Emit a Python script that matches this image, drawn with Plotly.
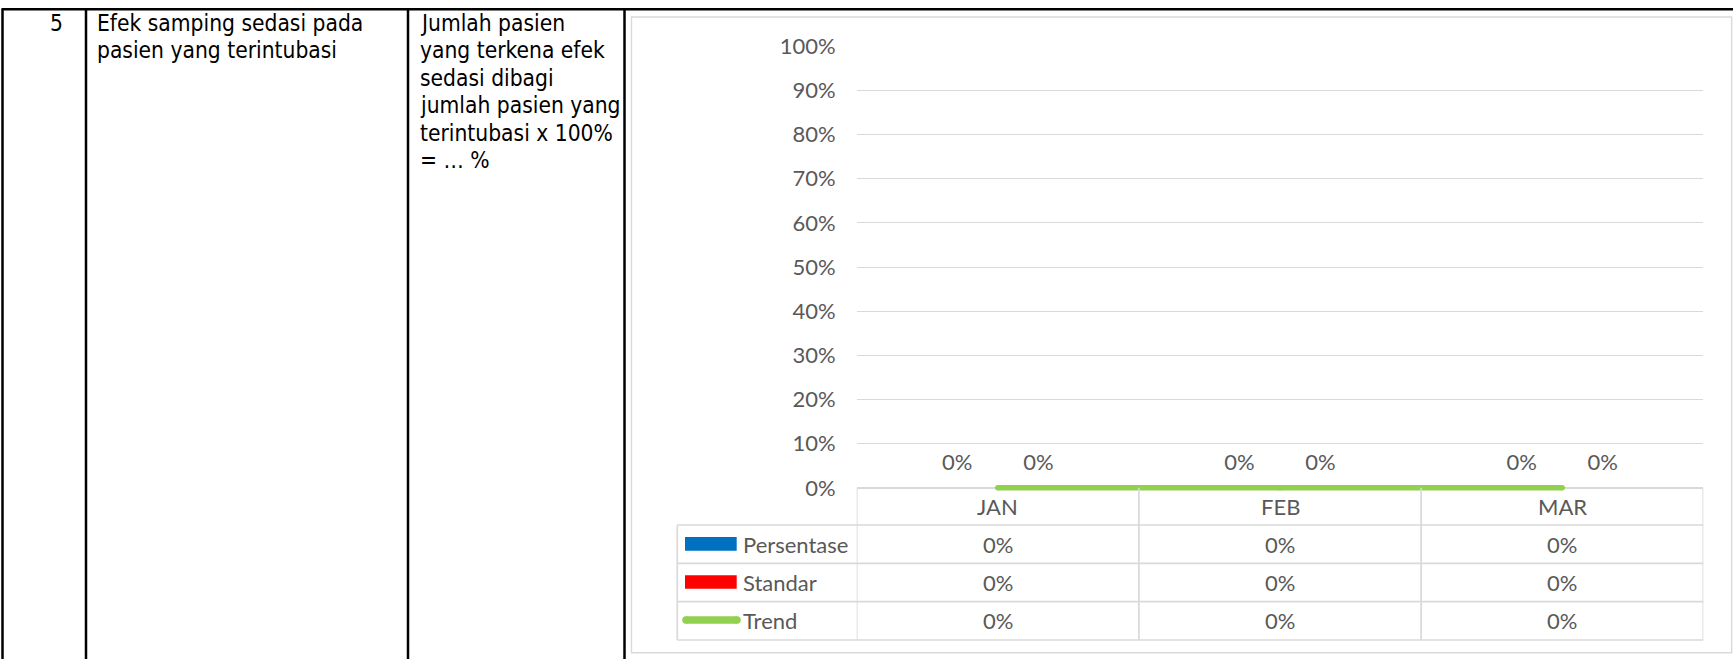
import plotly.graph_objects as go

W, H = 1733, 659

# ---------------- data ----------------
months = ["JAN", "FEB", "MAR"]
persentase = [0, 0, 0]
standar = [0, 0, 0]
trend = [0, 0, 0]
series_names = ["Persentase", "Standar", "Trend"]
y_tickvals = [0, 0.1, 0.2, 0.3, 0.4, 0.5, 0.6, 0.7, 0.8, 0.9, 1.0]
y_ticktext = ["0%", "10%", "20%", "30%", "40%", "50%", "60%", "70%", "80%", "90%", "100%"]

row_no = "5"
indikator_lines = ["Efek samping sedasi pada", "pasien yang terintubasi"]
definisi_lines = ["Jumlah pasien", "yang terkena efek", "sedasi dibagi",
                  "jumlah pasien yang", "terintubasi x 100%", "= \u2026 %"]

# ---------------- styles ----------------
BLUE, RED, GREEN = "#0070C0", "#FF0000", "#92D050"
GRAY, GRID = "#595959", "#D9D9D9"
CHART_FONT = "Lato"
DOC_FONT = "DejaVu Sans Condensed, Liberation Sans Narrow, sans-serif"
CFS = 22   # chart font size
DFS = 22.6  # document font size


def px(x):
    return x / W


def py(y):
    return 1 - y / H


def pct(v):
    return f"{v:.0%}"


# plot area: 0% sits at 487.8 px, 100% at 46.3 px; a small pad below 0 keeps the
# thick trend line from being clipped
Y0_PX, Y100_PX = 487.8, 46.3
Y_PAD = 0.01
X_DOM = [px(856.7), px(1703.3)]
Y_DOM = [py(Y0_PX + Y_PAD * (Y0_PX - Y100_PX)), py(Y100_PX)]

fig = go.Figure()

# bars (zero-height) + their data labels
for name, vals, col in [("Persentase", persentase, BLUE), ("Standar", standar, RED)]:
    fig.add_trace(go.Bar(x=months, y=vals, name=name, offsetgroup=name,
                         marker=dict(color=col, line=dict(width=0)),
                         hoverinfo="skip", showlegend=False))
    fig.add_trace(go.Scatter(x=months, y=vals, mode="markers+text",
                             alignmentgroup="labels", offsetgroup=name,
                             text=[pct(v) for v in vals], textposition="top center",
                             textfont=dict(family=CHART_FONT, size=CFS, color=GRAY),
                             marker=dict(size=18, opacity=0), cliponaxis=False,
                             hoverinfo="skip", showlegend=False))

# trend line (own alignment group so it stays on the category centre)
fig.add_trace(go.Scatter(x=months, y=trend, mode="lines+markers", name="Trend",
                         alignmentgroup="trend", offsetgroup="trend",
                         line=dict(color=GREEN, width=5.5),
                         marker=dict(color=GREEN, size=5.5),
                         cliponaxis=False, hoverinfo="skip", showlegend=False))

shapes = []
BLK = dict(color="black", width=2.5)
# outer document table lines
shapes.append(dict(type="line", xref="paper", yref="paper", x0=px(1.5), x1=1, y0=py(9.2), y1=py(9.2), line=BLK))
for xv in [2.5, 86, 408, 624.5]:
    shapes.append(dict(type="line", xref="paper", yref="paper", x0=px(xv), x1=px(xv),
                       y0=py(9.2), y1=0, line=BLK))
# chart frame
shapes.append(dict(type="rect", xref="paper", yref="paper", x0=px(631.5), x1=px(1731.7),
                   y0=py(652.7), y1=py(17), line=dict(color=GRID, width=1.4)))
# data table lines
row_lines = [525, 563.3, 601.7, 640]
TL = dict(color=GRID, width=1.7)
for yv in row_lines:
    shapes.append(dict(type="line", xref="paper", yref="paper", x0=px(677.3), x1=X_DOM[1],
                       y0=py(yv), y1=py(yv), line=TL))
shapes.append(dict(type="line", xref="paper", yref="paper", x0=px(677.3), x1=px(677.3),
                   y0=py(525), y1=py(640), line=TL))
for k in range(len(months) + 1):
    shapes.append(dict(type="line", xref="x", yref="paper", x0=k - 0.5, x1=k - 0.5,
                       y0=py(Y0_PX), y1=py(640), line=TL))

# legend keys inside the table
shapes.append(dict(type="rect", xref="paper", yref="paper", x0=px(685), x1=px(736.7),
                   y0=py(550.7), y1=py(537), fillcolor=BLUE, line=dict(width=0)))
shapes.append(dict(type="rect", xref="paper", yref="paper", x0=px(685), x1=px(736.7),
                   y0=py(588.7), y1=py(575.3), fillcolor=RED, line=dict(width=0)))
shapes.append(dict(type="line", xref="paper", yref="paper", x0=px(686), x1=px(737),
                   y0=py(620), y1=py(620), line=dict(color=GREEN, width=7.6)))
for cx in [686, 737]:
    shapes.append(dict(type="circle", xref="paper", yref="paper", x0=px(cx - 3.8), x1=px(cx + 3.8),
                       y0=py(623.8), y1=py(616.2), fillcolor=GREEN, line=dict(width=0)))

annotations = []


def ann(text, x, y, xanchor="left", size=CFS, family=CHART_FONT, color=GRAY, xref="paper"):
    annotations.append(dict(text=text, x=x, y=y, xref=xref, yref="paper", xanchor=xanchor,
                            yanchor="middle", showarrow=False, borderpad=0, borderwidth=0,
                            font=dict(family=family, size=size, color=color)))


# document text (baseline based)
def doc_line(text, x, baseline, xanchor="left"):
    ann(text, px(x), py(baseline - 0.35 * DFS), xanchor=xanchor, size=DFS, family=DOC_FONT, color="black")


doc_line(row_no, 56.7, 30.8, xanchor="center")
for i, t in enumerate(indikator_lines):
    doc_line(t, 96.7, 30.8 + 27.5 * i)
for i, t in enumerate(definisi_lines):
    doc_line(t, 420, 30.8 + 27.5 * i)

# table: header, legend labels and values
for m in months:
    ann(m, m, py(506.7), xanchor="center", xref="x")
row_centers = [544.2, 582.5, 620.9]
for name, vals, yc in zip(series_names, [persentase, standar, trend], row_centers):
    ann(name, px(742.7), py(yc))
    for m, v in zip(months, vals):
        ann(pct(v), m, py(yc), xanchor="center", xref="x")

axis_font = dict(family=CHART_FONT, size=CFS, color=GRAY)
fig.update_layout(
    width=W, height=H, autosize=False,
    margin=dict(l=0, r=0, t=0, b=0, pad=0, autoexpand=False),
    paper_bgcolor="white", plot_bgcolor="white",
    showlegend=False,
    barmode="group", bargap=0.425, bargroupgap=0,
    scattermode="group", scattergap=0.425,
    xaxis=dict(domain=X_DOM, type="category", categoryorder="array", categoryarray=months,
               range=[-0.5, len(months) - 0.5], showgrid=False, zeroline=False,
               showline=False, ticks="", showticklabels=False,
               automargin=False, fixedrange=True),
    yaxis=dict(domain=Y_DOM, range=[-Y_PAD, 1], tickvals=y_tickvals, ticktext=y_ticktext,
               showgrid=True, gridcolor=GRID, gridwidth=1.3,
               zeroline=True, zerolinecolor=GRID, zerolinewidth=1.7,
               showline=False, ticks="", tickfont=axis_font, ticklabelstandoff=20,
               layer="below traces", automargin=False, fixedrange=True),
    shapes=shapes,
    annotations=annotations,
)

fig.write_html("out.html", config={"displayModeBar": False},
               post_script="document.body.style.margin='0';document.body.style.overflow='hidden';"
                           "document.documentElement.style.overflow='hidden';")
